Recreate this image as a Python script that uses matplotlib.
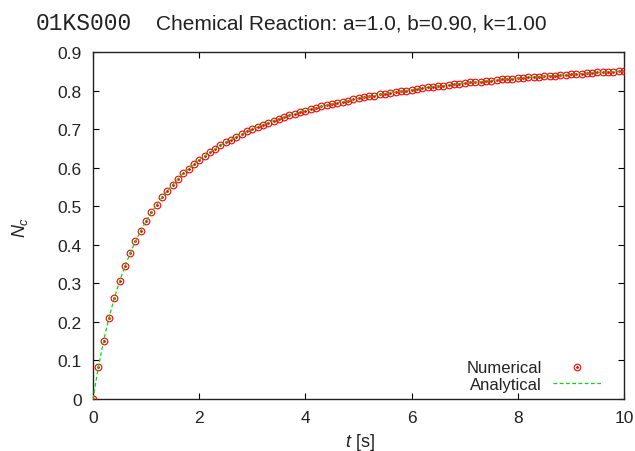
"""
Chemical reaction A + B -> C: numerical vs analytical N_c(t)
a=1.0, b=0.90, k=1.00
"""
import numpy as np
import matplotlib
matplotlib.use('Agg')
import matplotlib.pyplot as plt

plt.rcParams['font.family'] = ['Liberation Sans', 'DejaVu Sans']
plt.rcParams['mathtext.fontset'] = 'custom'
plt.rcParams['mathtext.rm'] = 'Liberation Sans'
plt.rcParams['mathtext.it'] = 'Liberation Sans:italic'

# time grid (s), step 0.1
t = np.linspace(0, 10, 101)

# N_c (numerical points sit on the analytical curve)
nc_numerical = [
    0.000, 0.082, 0.151, 0.210, 0.261, 0.305, 0.344, 0.378, 0.409, 0.437,
    0.461, 0.484, 0.504, 0.523, 0.540, 0.556, 0.571, 0.585, 0.597, 0.609,
    0.620, 0.630, 0.640, 0.649, 0.658, 0.666, 0.673, 0.680, 0.687, 0.694,
    0.700, 0.706, 0.711, 0.717, 0.722, 0.727, 0.731, 0.736, 0.740, 0.744,
    0.748, 0.752, 0.755, 0.759, 0.762, 0.765, 0.768, 0.771, 0.774, 0.777,
    0.780, 0.782, 0.785, 0.787, 0.790, 0.792, 0.794, 0.796, 0.798, 0.800,
    0.802, 0.804, 0.806, 0.808, 0.810, 0.811, 0.813, 0.815, 0.816, 0.818,
    0.819, 0.821, 0.822, 0.823, 0.825, 0.826, 0.827, 0.829, 0.830, 0.831,
    0.832, 0.833, 0.834, 0.835, 0.836, 0.837, 0.838, 0.839, 0.840, 0.841,
    0.842, 0.843, 0.844, 0.845, 0.846, 0.847, 0.847, 0.848, 0.849, 0.850,
    0.851]
nc_analytical = list(nc_numerical)

x_ticks = [0, 2, 4, 6, 8, 10]
y_ticks = [0, 0.1, 0.2, 0.3, 0.4, 0.5, 0.6, 0.7, 0.8, 0.9]
y_ticklabels = ['0', '0.1', '0.2', '0.3', '0.4', '0.5', '0.6', '0.7', '0.8', '0.9']

W, H = 635, 452
fig = plt.figure(figsize=(W / 100, H / 100), dpi=100)
ax = fig.add_axes([93 / W, 1 - 400 / H, (624 - 93) / W, (400 - 53) / H])

# numerical: red open circles with a dot in the middle
ring, = ax.plot(t, nc_numerical, linestyle='none', marker='o', markersize=4.8,
                markerfacecolor='none', markeredgecolor='#ff0000',
                markeredgewidth=0.8, zorder=3)
dot, = ax.plot(t, nc_numerical, linestyle='none', marker='o', markersize=1.0,
               color='#ff0000', zorder=3)
# analytical: green dashed
ana, = ax.plot(t, nc_analytical, color='#00dd00', linewidth=0.9, dashes=(3, 2),
               zorder=4)

ax.set_xlim(0, 10)
ax.set_ylim(0, 0.9)
ax.set_xticks(x_ticks)
ax.set_yticks(y_ticks)
ax.set_yticklabels(y_ticklabels)
ax.tick_params(direction='in', length=4, width=0.8, top=True, right=True,
               labelsize=12.5, labelcolor='#222222', pad=8)
for sp in ax.spines.values():
    sp.set_linewidth(1.0)
    sp.set_color('#222222')

leg = ax.legend([(ring, dot), ana], ['Numerical', 'Analytical'],
                loc='lower right', bbox_to_anchor=(0.9586, 0.02),
                frameon=False, markerfirst=False, fontsize=12,
                handlelength=2.95, handletextpad=0.66, labelspacing=0.1,
                borderpad=0, borderaxespad=0)
for txt in leg.get_texts():
    txt.set_color('#222222')

# labels and titles
fig.text(20 / W, 1 - 227 / H, '$N_c$', rotation=90, ha='center', va='center',
         fontsize=13, color='#222222')
fig.text(360 / W, 1 - 443 / H, '$t$ [s]', ha='center', va='center',
         fontsize=13, color='#222222')
fig.text(36 / W, 1 - 30 / H, '01KS000', family='Liberation Mono',
         fontsize=16.5, color='#222222', ha='left', va='baseline')
fig.text(156 / W, 1 - 30 / H, 'Chemical Reaction: a=1.0, b=0.90, k=1.00',
         fontsize=15, color='#222222', ha='left', va='baseline')

fig.savefig('out.png', dpi=100)
